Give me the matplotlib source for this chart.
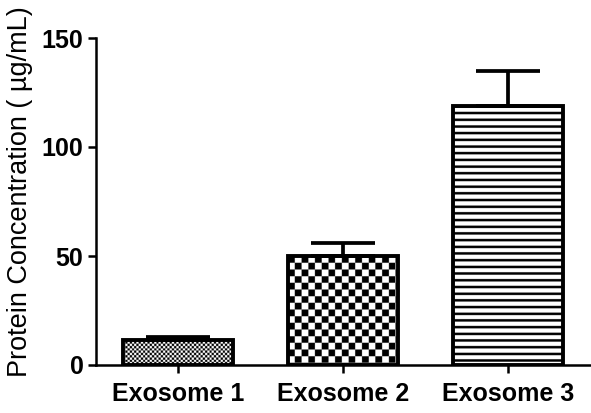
import numpy as np
import matplotlib
matplotlib.use("Agg")
import matplotlib.pyplot as plt

# values
samples = ["Exosome 1", "Exosome 2", "Exosome 3"]
conc = [11.5, 50.0, 119.0]      # mean protein concentration (ug/mL)
conc_err = [1.3, 6.0, 16.0]     # upper error (SEM)
patterns = ["fine", "coarse", "lines"]
y_ticks = [0, 50, 100, 150]

plt.rcParams['font.family'] = ['Liberation Sans', 'DejaVu Sans']


#
# build a grey-level image for one hatch style
# px, py are pixel coordinates inside the bar
#
def pattern_image(kind, px, py):
    if kind == "fine":
        c = 2.2
        return ((np.floor(px / c) + np.floor(py / c)) % 2).astype(float)
    if kind == "coarse":
        c = 6.67
        return ((np.floor(px / c) + np.floor(py / c)) % 2).astype(float)
    # horizontal lines
    p = 6.67
    return ((py % p) > 2.5).astype(float)


def fill_bar(ax, fig, bar, kind):
    ss = 4
    bb = bar.get_window_extent(fig.canvas.get_renderer())
    nx, ny = max(int(bb.width * ss), 1), max(int(bb.height * ss), 1)
    jj, ii = np.meshgrid(np.arange(nx), np.arange(ny))
    img = pattern_image(kind, jj / ss, ii / ss)
    x0, y0 = bar.get_x(), bar.get_y()
    im = ax.imshow(img, extent=(x0, x0 + bar.get_width(), y0, y0 + bar.get_height()),
                   cmap="gray", vmin=0, vmax=1, aspect="auto", origin="upper",
                   interpolation="antialiased", zorder=2)
    im.set_clip_path(bar)


fig = plt.figure(figsize=(5.91, 4.13), dpi=100)
ax = fig.add_axes([96 / 591, 48 / 413, 494 / 591, 327 / 413])

x = np.arange(len(samples))
width = 0.67

# white faces first, the pattern images, then the outlines on top
faces = ax.bar(x, conc, width, color="white", edgecolor="none", zorder=1)
ax.set_xlim(-0.5, 2.5)
ax.set_ylim(0, 150)
fig.canvas.draw()
for bar, kind in zip(faces, patterns):
    fill_bar(ax, fig, bar, kind)

ax.errorbar(x, conc, yerr=[np.zeros(len(conc)), conc_err], fmt="none",
            ecolor="black", elinewidth=2.7, capsize=23, capthick=2.7, zorder=2.5)
ax.bar(x, conc, width, facecolor="none", edgecolor="black", linewidth=2.8, zorder=3)

ax.set_xlim(-0.5, 2.5)
ax.set_ylim(0, 150)

ax.spines['top'].set_visible(False)
ax.spines['right'].set_visible(False)
ax.spines['left'].set_linewidth(1.8)
ax.spines['bottom'].set_linewidth(1.8)

ax.set_yticks(y_ticks)
ax.set_xticks(x)
ax.set_xticklabels(samples)
ax.tick_params(axis='both', direction='out', width=1.8, length=6, labelsize=18)
ax.tick_params(axis='y', pad=3)
ax.tick_params(axis='x', pad=6)
for lab in ax.get_xticklabels() + ax.get_yticklabels():
    lab.set_fontweight('bold')

ax.set_ylabel("Protein Concentration ( \u00b5g/mL)", fontsize=19.5)
ax.yaxis.set_label_coords(-0.128, 0.529)

fig.savefig("out.png", dpi=100)
